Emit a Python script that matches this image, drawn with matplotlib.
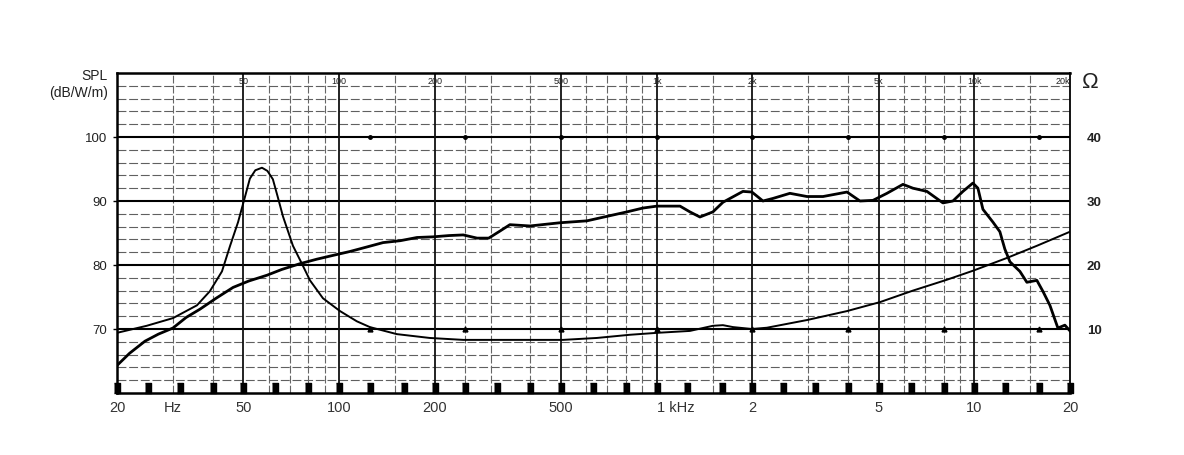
# -*- coding: utf-8 -*-
# SPL + impedance chart of a woofer (log frequency axis)

import matplotlib
matplotlib.use('Agg')
import matplotlib.pyplot as plt
from matplotlib.ticker import FixedLocator, NullFormatter, NullLocator

plt.rcParams['font.family'] = ['Liberation Sans', 'DejaVu Sans']

# SPL curve (dB/W/m)
spl_freq = [20, 21.9, 24.5, 27, 30, 33, 36.5, 41, 46.4, 52, 59.3, 66, 75.3, 85, 95.7, 108, 122,
            137.6, 156, 176, 197.6, 222, 246, 272, 296, 321, 345, 399, 496, 603, 697, 806, 905,
            1002, 1184, 1272, 1368, 1503, 1616, 1868, 1994, 2160, 2322, 2626, 2972, 3338,
            3972, 4364, 4794, 5306, 5960, 6406, 7090, 7962, 8560, 9204, 9894, 10260, 10640,
            11440, 12030, 12470, 12940, 13910, 14630, 15730, 16430, 17290, 18320, 19270, 20000]
spl_db = [64.3, 66.2, 68.1, 69.2, 70.15, 71.8, 73.1, 74.8, 76.5, 77.5, 78.4, 79.3, 80.2, 80.9,
          81.5, 82.1, 82.8, 83.5, 83.8, 84.3, 84.4, 84.6, 84.7, 84.2, 84.2, 85.3, 86.3, 86.1,
          86.6, 86.9, 87.6, 88.3, 88.9, 89.2, 89.2, 88.3, 87.5, 88.3, 89.8, 91.5, 91.4, 90.0,
          90.4, 91.2, 90.7, 90.7, 91.4, 90.0, 90.1, 91.2, 92.6, 92.0, 91.5, 89.7, 90.0, 91.5,
          92.8, 92.0, 88.7, 86.7, 85.2, 82.5, 80.5, 79.0, 77.3, 77.6, 75.9, 73.7, 70.15, 70.6,
          69.7]

# impedance curve (ohm)
imp_freq = [20, 24.8, 30, 35.7, 39.2, 42.8, 45.4, 48.1, 50.6, 52.4, 54.5, 57.2, 59.5, 61.9,
            64, 66.6, 71.6, 76.4, 81, 89, 100.7, 113.8, 125, 152, 193, 246, 400, 507, 648, 824,
            1002, 1272, 1503, 1616, 1738, 1994, 2224, 2972, 3972, 5044, 6406, 8196, 9894,
            12660, 15730, 20000]
imp_ohm = [9.4, 10.5, 11.7, 13.7, 15.9, 19.0, 23.0, 26.7, 30.7, 33.5, 34.8, 35.2, 34.7, 33.4,
           30.8, 27.6, 23.0, 20.2, 17.6, 14.8, 12.8, 11.2, 10.3, 9.2, 8.6, 8.3, 8.3, 8.3, 8.6,
           9.1, 9.4, 9.7, 10.5, 10.6, 10.3, 10.0, 10.2, 11.4, 12.8, 14.2, 16.0, 17.7, 19.1,
           21.1, 23.0, 25.2]

third_oct = [20, 25, 31.5, 40, 50, 63, 80, 100, 125, 160, 200, 250, 315, 400, 500, 630, 800,
             1000, 1250, 1600, 2000, 2500, 3150, 4000, 5000, 6300, 8000, 10000, 12500, 16000, 20000]
octave_marks = [125, 250, 500, 1000, 2000, 4000, 8000, 16000]

major_f = [50, 100, 200, 500, 1000, 2000, 5000, 10000]
minor_f = [30, 40, 60, 70, 80, 90, 150, 250, 300, 400, 600, 700, 800, 900, 1500,
           3000, 4000, 6000, 7000, 8000, 9000, 15000]
top_labels = ['50', '100', '200', '500', '1k', '2k', '5k', '10k', '20k']
top_label_f = [50, 100, 200, 500, 1000, 2000, 5000, 10000, 20000]
bottom_labels = ['20', 'Hz', '50', '100', '200', '500', '1 kHz', '2', '5', '10', '20']
bottom_label_f = [20, 30, 50, 100, 200, 500, 1000, 2000, 5000, 10000, 20000]
spl_ticks = [70, 80, 90, 100]
ohm_ticks = [10, 20, 30, 40]

fig = plt.figure(figsize=(11.84, 4.55), dpi=100)
ax = fig.add_axes([117 / 1184, 1 - 393 / 455, 953 / 1184, 320 / 455])
ax.set_xscale('log')
ax.set_xlim(20, 20000)
ax.set_ylim(60, 110)

# grid
for y in range(62, 110, 2):
    if y % 10 != 0:
        ax.axhline(y, color='#606060', lw=0.8, dashes=(8, 2.5), zorder=1)
for y in spl_ticks:
    ax.axhline(y, color='black', lw=1.5, zorder=2)
for f in minor_f:
    ax.axvline(f, color='#666666', lw=0.8, dashes=(7, 2), zorder=1)
for f in major_f:
    ax.axvline(f, color='#111111', lw=1.3, zorder=2)

# measurement marks
ax.plot(third_oct, [60.78] * len(third_oct), ls='none', color='black',
        marker=[(-0.27, -0.5), (0.27, -0.5), (0.27, 0.5), (-0.27, 0.5)], markersize=7.4,
        clip_on=False, zorder=4)
ax.plot(octave_marks, [70] * len(octave_marks), ls='none', marker='^', color='black',
        markersize=3.5, zorder=4)
ax.plot(octave_marks, [100] * len(octave_marks), ls='none', marker='o', color='black',
        markersize=2.5, zorder=4)

# curves
ax.plot(spl_freq, spl_db, color='black', lw=2.0, zorder=5, solid_joinstyle='round')
ax2 = ax.twinx()
ax2.set_ylim(0, 50)
ax2.plot(imp_freq, imp_ohm, color='black', lw=1.4, zorder=5, solid_joinstyle='round')

# axes / ticks
ax.xaxis.set_major_locator(FixedLocator(bottom_label_f))
ax.set_xticklabels(bottom_labels)
ax.xaxis.set_minor_locator(NullLocator())
ax.xaxis.set_minor_formatter(NullFormatter())
ax.tick_params(axis='x', length=0, pad=6, labelsize=10.5, labelcolor='#333333')
for lab in ax.get_xticklabels():
    if lab.get_text() == '1 kHz':
        lab.set_horizontalalignment('left')
ax.set_yticks(spl_ticks)
ax.tick_params(axis='y', length=3, width=1, pad=4, labelsize=9.5, labelcolor='#222222')
ax2.set_yticks(ohm_ticks)
ax2.tick_params(axis='y', length=0, pad=12, labelsize=9.5, labelcolor='#222222')
for lab in ax2.get_yticklabels():
    lab.set_fontweight('bold')

for sp in ['left', 'top', 'bottom']:
    ax.spines[sp].set_linewidth(1.8)
ax.spines['right'].set_linewidth(1.3)
for sp in ax2.spines.values():
    sp.set_visible(False)

# labels inside top of chart
for f, t in zip(top_label_f, top_labels):
    ax.text(f, 108.7, t, ha='center' if f < 20000 else 'right', va='center', fontsize=6.5,
            color='#222222', zorder=6)

fig.text(108 / 1184, 1 - 76 / 455, 'SPL', ha='right', va='center', fontsize=10, color='#222222')
fig.text(108 / 1184, 1 - 93 / 455, '(dB/W/m)', ha='right', va='center', fontsize=10,
         color='#222222')
fig.text(1082 / 1184, 1 - 82 / 455, 'Ω', ha='left', va='center', fontsize=16, color='#222222')

fig.savefig('out.png', dpi=100)
